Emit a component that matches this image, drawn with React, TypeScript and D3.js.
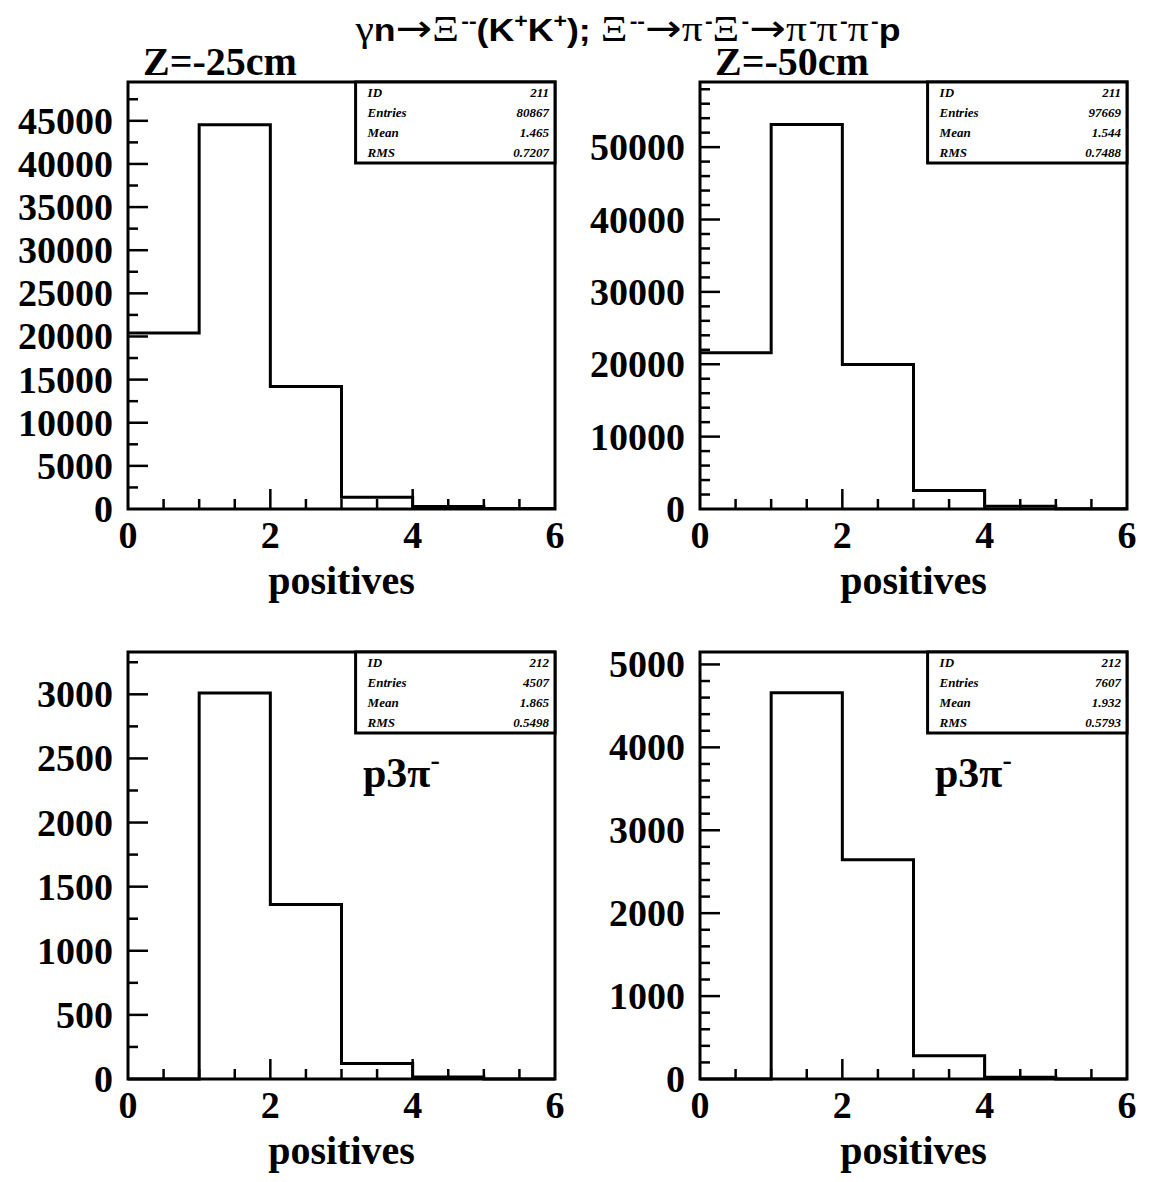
import React from "react";
import * as d3 from "d3";

// bin edges shared by every histogram
const binEdges = [0, 1, 2, 3, 4, 5, 6];
const xTickLabels = [0, 2, 4, 6];

// counts per bin
const z25All = [20400, 44540, 14200, 1370, 280, 50];
const z50All = [21600, 53130, 19950, 2570, 380, 40];
const z25P3pi = [0, 3010, 1360, 120, 15, 0];
const z50P3pi = [0, 4660, 2645, 280, 20, 0];

// y tick labels
const yTicks25All = [0, 5000, 10000, 15000, 20000, 25000, 30000, 35000, 40000, 45000];
const yTicks50All = [0, 10000, 20000, 30000, 40000, 50000];
const yTicks25P = [0, 500, 1000, 1500, 2000, 2500, 3000];
const yTicks50P = [0, 1000, 2000, 3000, 4000, 5000];

// stats box
const statLabels = ["ID", "Entries", "Mean", "RMS"];
const stats25All = ["211", "80867", "1.465", "0.7207"];
const stats50All = ["211", "97669", "1.544", "0.7488"];
const stats25P = ["212", "4507", "1.865", "0.5498"];
const stats50P = ["212", "7607", "1.932", "0.5793"];

const SERIF = "'Liberation Serif', 'Times New Roman', serif";
const SANS = "'Liberation Sans', Arial, sans-serif";
const SYM = "'DejaVu Sans', sans-serif";

const W = 427;
const H = 427;

type PanelProps = {
  left: number;
  top: number;
  counts: number[];
  yMax: number;
  yTicks: number[];
  minorStep: number;
  stats: string[];
  title?: string;
  tag?: boolean;
};

const Panel = ({ left, top, counts, yMax, yTicks, minorStep, stats, title, tag }: PanelProps) => {
  const x = d3.scaleLinear().domain([0, 6]).range([0, W]);
  const y = d3.scaleLinear().domain([0, yMax]).range([H, 0]);

  const pts: [number, number][] = binEdges.map((e, i) => [e, counts[Math.min(i, counts.length - 1)]]);
  const step = d3
    .line<[number, number]>()
    .x((d) => x(d[0]))
    .y((d) => y(d[1]))
    .curve(d3.curveStepAfter);

  const majorStep = yTicks[1] - yTicks[0];
  const minor = d3
    .range(minorStep, yMax, minorStep)
    .filter((v) => Math.abs(v / majorStep - Math.round(v / majorStep)) > 1e-6);
  const xTicks = d3.range(0.5, 6, 0.5);

  const boxL = W * 0.533;
  const boxH = 81;

  return (
    <g transform={`translate(${left},${top})`}>
      {title && (
        <text x={15} y={-7} fontFamily={SERIF} fontWeight="bold" fontSize={40}>
          {title}
        </text>
      )}
      <path d={step(pts) || ""} fill="none" stroke="#000" strokeWidth={3} />
      {yTicks
        .filter((v) => v > 0)
        .map((v) => (
          <line key={"M" + v} x1={0} x2={20} y1={y(v)} y2={y(v)} stroke="#000" strokeWidth={2.5} />
        ))}
      {minor.map((v) => (
        <line key={"m" + v} x1={0} x2={10} y1={y(v)} y2={y(v)} stroke="#000" strokeWidth={2.5} />
      ))}
      {xTicks.map((v) => (
        <line
          key={"x" + v}
          x1={x(v)}
          x2={x(v)}
          y1={H}
          y2={H - (v % 2 === 0 ? 20 : 10)}
          stroke="#000"
          strokeWidth={2.5}
        />
      ))}
      {yTicks.map((v) => (
        <text
          key={"yl" + v}
          x={-15}
          y={y(v) + 13}
          textAnchor="end"
          fontFamily={SERIF}
          fontWeight="bold"
          fontSize={38}
        >
          {v}
        </text>
      ))}
      {xTickLabels.map((v) => (
        <text key={"xl" + v} x={x(v)} y={H + 39} textAnchor="middle" fontFamily={SERIF} fontWeight="bold" fontSize={38}>
          {v}
        </text>
      ))}
      <text x={W / 2} y={H + 85} textAnchor="middle" fontFamily={SERIF} fontWeight="bold" fontSize={40}>
        positives
      </text>
      <rect x={0} y={0} width={W} height={H} fill="none" stroke="#000" strokeWidth={3} />
      <rect x={boxL} y={0} width={W - boxL} height={boxH} fill="#fff" stroke="#000" strokeWidth={3} />
      {statLabels.map((s, i) => (
        <g key={s}>
          <text x={boxL + 12} y={15 + i * 20} fontFamily={SERIF} fontWeight="bold" fontStyle="italic" fontSize={13}>
            {s}
          </text>
          <text x={W - 6} y={15 + i * 20} textAnchor="end" fontFamily={SERIF} fontWeight="bold" fontStyle="italic" fontSize={13}>
            {stats[i]}
          </text>
        </g>
      ))}
      {tag && (
        <text x={235} y={135} fontFamily={SERIF} fontWeight="bold" fontSize={42}>
          p3π<tspan dy={-18} fontSize={28}>-</tspan>
        </text>
      )}
    </g>
  );
};

const App = () => {
  const up = -13;
  const down = 13;
  const sf = 20;
  const g = { fontFamily: SERIF, fontWeight: "normal" as const, fontSize: 36 };
  const arrow = { fontFamily: SYM, fontWeight: "normal" as const, fontSize: 38 };
  return (
    <svg width={1150} height={1182} style={{ position: "absolute", left: 0, top: 0, background: "#fff" }}>
      <rect width={1150} height={1182} fill="#fff" />
      <text
        x={628}
        y={41}
        textAnchor="middle"
        fontFamily={SANS}
        fontWeight="bold"
        fontSize={31}
        textLength={545}
        lengthAdjust="spacingAndGlyphs"
      >
        <tspan {...g}>γ</tspan>
        <tspan>n</tspan>
        <tspan {...arrow}>→</tspan>
        <tspan {...g}>Ξ</tspan>
        <tspan dy={up} dx={2} fontSize={sf}>--</tspan>
        <tspan dy={down}>(K</tspan>
        <tspan dy={up} fontSize={sf}>+</tspan>
        <tspan dy={down}>K</tspan>
        <tspan dy={up} fontSize={sf}>+</tspan>
        <tspan dy={down}>); </tspan>
        <tspan {...g}>Ξ</tspan>
        <tspan dy={up} dx={2} fontSize={sf}>--</tspan>
        <tspan dy={down} {...arrow}>→</tspan>
        <tspan {...g}>π</tspan>
        <tspan dy={up} dx={2} fontSize={sf}>-</tspan>
        <tspan dy={down} {...g}>Ξ</tspan>
        <tspan dy={up} dx={2} fontSize={sf}>-</tspan>
        <tspan dy={down} {...arrow}>→</tspan>
        <tspan {...g}>π</tspan>
        <tspan dy={up} dx={2} fontSize={sf}>-</tspan>
        <tspan dy={down} {...g}>π</tspan>
        <tspan dy={up} dx={2} fontSize={sf}>-</tspan>
        <tspan dy={down} {...g}>π</tspan>
        <tspan dy={up} dx={2} fontSize={sf}>-</tspan>
        <tspan dy={down}>p</tspan>
      </text>
      <Panel left={128} top={82} counts={z25All} yMax={49500} yTicks={yTicks25All} minorStep={2500} stats={stats25All} title="Z=-25cm" />
      <Panel left={700} top={82} counts={z50All} yMax={59000} yTicks={yTicks50All} minorStep={2000} stats={stats50All} title="Z=-50cm" />
      <Panel left={128} top={652} counts={z25P3pi} yMax={3330} yTicks={yTicks25P} minorStep={250} stats={stats25P} tag />
      <Panel left={700} top={652} counts={z50P3pi} yMax={5150} yTicks={yTicks50P} minorStep={200} stats={stats50P} tag />
    </svg>
  );
};

export default App;
